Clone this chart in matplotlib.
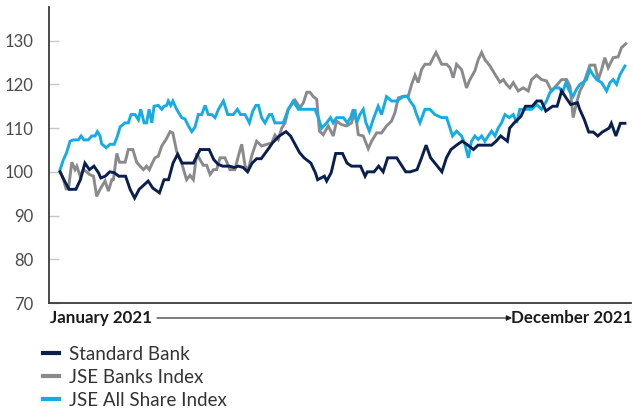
import matplotlib
matplotlib.use("Agg")
import matplotlib.pyplot as plt
from matplotlib.lines import Line2D

# ---- data (trading day index, rebased value) ----
sb_days = [0, 2, 4, 7, 9, 11, 13, 15, 17, 18, 20, 22, 24, 26, 29, 31, 33, 35, 39, 41,
           44, 46, 48, 50, 52, 54, 56, 59, 62, 64, 66, 68, 70, 72, 75, 77, 79, 81, 83, 85,
           87, 89, 92, 94, 97, 100, 102, 104, 106, 108, 111, 113, 114,
           117, 118, 120, 122, 125, 127, 129, 133, 135, 136, 139, 141, 143, 145, 149, 153,
           155, 158, 160, 162, 164, 167, 169, 171, 173, 176, 178, 180, 183, 185, 187, 191,
           193, 195, 198, 199, 201, 204, 206, 209, 211, 213, 215, 218, 220, 222, 224, 226,
           229, 230, 232, 234, 236, 238, 240, 243, 244, 246, 248, 250]
sb_vals = [100, 97.9, 96, 96, 98.2, 102, 100.5, 101.3, 99.8, 98.6, 99, 100, 99.8, 99, 99,
           96, 94, 96, 97.9, 96.3, 95.2, 98.2, 98.2, 102, 104, 102, 102, 102, 105.1, 105.1,
           105.1, 102.8, 101.7, 101.3, 101.3, 101, 101.3, 101, 100, 102, 103, 103, 105.1,
           106.6, 108.2, 109.2, 108.2, 106.3, 104.4, 103.2, 102, 99.8, 98.2,
           99, 97.9, 99.8, 104.2, 104.2, 102, 101.3, 101.3, 99, 100, 100, 101.3, 100, 103.2,
           103.2, 100, 100, 100.5, 103.2, 106.1, 103.2, 101.3, 100, 103.2, 105.1, 106.3, 107,
           106.3, 105.1, 106.1, 106.1, 106.1, 107, 108.2, 107, 110, 111.2, 112.7, 115, 115,
           116.2, 116.2, 113.9, 115, 115, 118.5, 116.9, 115.4, 115.8, 114.3, 112, 109.1,
           109.1, 108.2, 109.1, 110, 111.1, 108.2, 111.1, 111.1]

banks_days = [0, 1.5, 2.7, 3.7, 5.2, 6.6, 7.4, 8.9, 10.3, 11.8, 13, 14.8, 16.2, 17.7, 19.9,
              21.4, 22.9, 23.6, 25.1, 26.3, 28.8, 30.2, 32.2, 33.9, 35.4, 36.9, 38.3, 39.5,
              41, 42, 43.5, 45, 46.9, 48.7, 49.9, 51.6, 53.8, 56, 57.5, 59, 60.5, 61.9, 63.4,
              64.9, 66.4, 67.9, 69.3, 70.8, 73, 75.2, 77.4, 78.9, 80.4, 81.9, 83.3, 84.8, 87,
              89.2, 91.5, 93.7, 95.1, 96.6, 98.1, 99.6, 101, 102.5, 104, 106.2, 107.7, 109.2,
              110.6, 112.1, 113.6, 114.8,
              116.5, 118.7, 120.9, 122.4, 124.6, 126.8, 129, 130.5, 132, 134.2, 136.4, 137.9,
              140.1, 142.3, 144.5, 146.7, 148.2, 149.7, 151.9, 154.1, 155.6, 157.1, 158.5, 160,
              161.5, 163.7, 166.4, 168.9, 171.1, 172.6, 174, 175.5, 177.7, 179.9, 181.4, 183.6,
              185.1, 186.6, 188, 190.3, 192.5, 194.7, 196.2, 197.6, 199.1, 200.6, 202.8, 205,
              207.2, 208.7, 210.9, 213.1, 215.3, 217.5, 219.8, 222, 224.2, 225.7, 227.1, 228.6,
              230.1, 231.6, 233, 234.5, 236.7, 238.2, 239.7, 241.1, 242.6, 244.8, 247, 248.5,
              250.4]
banks_vals = [100, 98.2, 96.1, 96.1, 102.2, 100.5, 101.3, 99, 100.5, 100, 99.4, 99, 94.4, 96,
              97.9, 95.6, 98.2, 98.2, 104.2, 102.2, 102.2, 105.1, 105.1, 102.2, 101.3, 100.5,
              101.3, 100.5, 102.2, 103.2, 103.6, 105.9, 107.4, 109.2, 108.9, 104.7, 102, 98.2,
              99.2, 98.2, 104.2, 102.8, 101.5, 101.5, 99.4, 100.5, 100.5, 103.2, 103.2, 100.5,
              100.5, 103.6, 106.3, 101.3, 100.5, 103.6, 107, 105.9, 106.3, 106.6, 108.4, 107.4,
              110, 111.2, 114.3, 115.4, 116.4, 114.7, 115.8, 118.2, 118.2, 117.2, 116.6, 109.3,
              108.5, 110.5, 108.2, 111.6, 110.8, 110.5, 111.2, 114.3, 108.5, 108.2, 105.3, 107,
              108.9, 108.9, 110.5, 111.6, 113.5, 116.9, 117.3, 117.3, 120, 122.1, 120.4, 123.4,
              124.6, 124.6, 127.3, 124.6, 124.6, 123.8, 121.5, 124.6, 123.4, 119.2, 121.1,
              123.1, 125.7, 127.3, 125.7, 124.2, 122.3, 120.5, 121.1, 120, 119.2, 120.4, 118.5,
              119.2, 118.5, 121.1, 122.1, 121.1, 120.8, 118.5, 119.8, 121.1, 121.1, 119.6,
              112.4, 115.8, 118.5, 120, 122.1, 124.4, 124.4, 121.1, 123.4, 126.1, 123.8, 126.1,
              126.3, 128.4, 129.3]

alsi_days = [0, 1.5, 2.9, 4.4, 5.9, 8.1, 9.3, 10.6, 12.5, 14, 15.5, 16.5, 17.7, 18.4, 20.4,
             22.1, 24, 25.4, 26.6, 28.8, 30.2, 31.4, 33.2, 34.7, 35.7, 37.2, 38.3, 39.4, 40.6,
             41.6, 43.5, 45, 46, 47.2, 47.9, 49, 49.9, 51.6, 53.8, 55.3, 56.8, 58.3, 59.7,
             61.2, 62.7, 64.2, 65.6, 67.1, 68.6, 70.1, 72.3, 74.2, 76.7, 78.5, 79.9, 81.9,
             83.8, 85.3, 86.7, 87.8, 89.2, 90.7, 92.6, 93.7, 95.1, 98.8, 101, 103.2, 105.5,
             109.2, 112.8, 114.3,
             115.8, 118, 119.7, 120.9, 122.4, 125.4, 127.1, 128.6, 129.8, 131.3, 132.7, 134.2,
             135.4, 136.9, 138.6, 140.8, 142.3, 144.5, 146.7, 149, 151.9, 153.7, 154.9, 156.6,
             157.8, 159.3, 161.5, 163.7, 165.9, 168.9, 171.1, 172.6, 173.7, 175.5, 177.7,
             179.2, 180.7, 182.1, 183.6, 185.1, 186.6, 188, 189.5, 191, 192.5, 193.9, 195.4,
             196.9, 198.8, 200.6, 202.1, 203.5, 205.7, 208.7, 210.9, 213.1, 215.3, 216.8, 219,
             220.9, 222.4, 223.9, 225.4, 227.1, 228.6, 230.1, 231.6, 233, 234.5, 236, 237.5,
             239.7, 241.9, 243.4, 244.8, 246.3, 247.8, 250]
alsi_vals = [100.5, 102.8, 104.4, 107, 107.3, 107.3, 108.2, 107.3, 107.3, 108.2, 108.2, 109.2,
             108.2, 106.4, 105.5, 106.3, 106.3, 108.2, 110.3, 111.2, 111.2, 113.1, 113.1,
             111.9, 114.3, 111.2, 111.2, 114.3, 111.2, 115, 115.2, 114.3, 115, 115.2, 116.2,
             115.2, 116.2, 114.3, 112.4, 112.1, 110.5, 109.2, 110.2, 113.1, 113.1, 115.2,
             113.1, 113.1, 112.4, 114.3, 116.2, 113.1, 113.1, 114.3, 113.1, 113.1, 111.2,
             113.9, 115.2, 115.2, 112.4, 111.2, 113.1, 113.1, 111.2, 111.2, 114.3, 116.2,
             114.3, 114.3, 114.3, 112.4,
             110, 111.2, 112.4, 111.2, 112.4, 112.4, 111.2, 112.4, 114.3, 111.2, 113.1, 114.3,
             111.2, 109.3, 112, 115, 113.1, 117.2, 116.2, 116.2, 117.2, 117.3, 116.2, 115,
             113.1, 111.2, 114.3, 114.3, 113.1, 112.4, 112.4, 110, 108.2, 109.3, 108.2, 106.3,
             103.2, 107, 108.2, 107.4, 108.2, 107, 108.2, 109.3, 108.2, 110, 111.2, 113.1,
             112.4, 113.1, 111.2, 114.3, 114.3, 114.3, 115.4, 114.3, 116.2, 118.1, 119.2,
             119.2, 118.1, 120.4, 118.5, 117.3, 118.9, 120, 120.5, 121.1, 123.4, 122.1, 121.1,
             120.4, 118.5, 120.4, 121.1, 120, 122.2, 124.2]

series_names = ["Standard Bank", "JSE Banks Index", "JSE All Share Index"]
y_ticks = [70, 80, 90, 100, 110, 120, 130]
start_label = "January 2021"
end_label = "December 2021"

NAVY = "#0b1f4f"
GREY = "#8a8a8c"
BLUE = "#14ace6"

plt.rcParams['font.family'] = ['Lato', 'DejaVu Sans']

fig = plt.figure(figsize=(6.33, 4.11), dpi=100)
W, H = 633, 411
ax = fig.add_axes([49 / W, (H - 303) / H, (631 - 49) / W, (303 - 7) / H])

lw = 2.1
ax.plot(banks_days, banks_vals, color=GREY, lw=lw, solid_joinstyle='miter', zorder=2)
ax.plot(alsi_days, alsi_vals, color=BLUE, lw=lw, solid_joinstyle='miter', zorder=3)
ax.plot(sb_days, sb_vals, color=NAVY, lw=lw, solid_joinstyle='miter', zorder=4)

ax.set_xlim(-4.9, 252.7)
ax.set_ylim(70, 137.7)
ax.set_yticks(y_ticks)
ax.set_xticks([])
for s in ['top', 'right']:
    ax.spines[s].set_visible(False)
for s in ['left', 'bottom']:
    ax.spines[s].set_color('#3a3a3a')
    ax.spines[s].set_linewidth(1.3)
ax.tick_params(axis='y', direction='in', length=7, width=1, color='#c8c8c8',
               pad=11, labelsize=12, labelcolor='#4a4a4a')

# x axis annotation
fy = (H - 318) / H
fig.text(50 / W, fy, start_label, ha='left', va='center',
         fontsize=12.2, fontweight='bold', color='#1a1a1a')
fig.text(632 / W, fy, end_label, ha='right', va='center',
         fontsize=12.2, fontweight='bold', color='#1a1a1a')
ax.annotate('', xy=(512 / W, fy), xytext=(157 / W, fy),
            xycoords='figure fraction', textcoords='figure fraction',
            arrowprops=dict(arrowstyle='-|>', color='#1a1a1a', lw=0.8,
                            mutation_scale=8, shrinkA=0, shrinkB=0))

handles = [Line2D([], [], color=NAVY, lw=3),
           Line2D([], [], color=GREY, lw=3),
           Line2D([], [], color=BLUE, lw=3)]
fig.legend(handles, series_names, loc='upper left', bbox_to_anchor=(43 / W, (H - 346) / H),
           frameon=False, fontsize=13.5, handlelength=0.85, handletextpad=0.55,
           labelspacing=0.32, labelcolor='#333333', borderaxespad=0, borderpad=0)

fig.savefig('out.png', dpi=100)
